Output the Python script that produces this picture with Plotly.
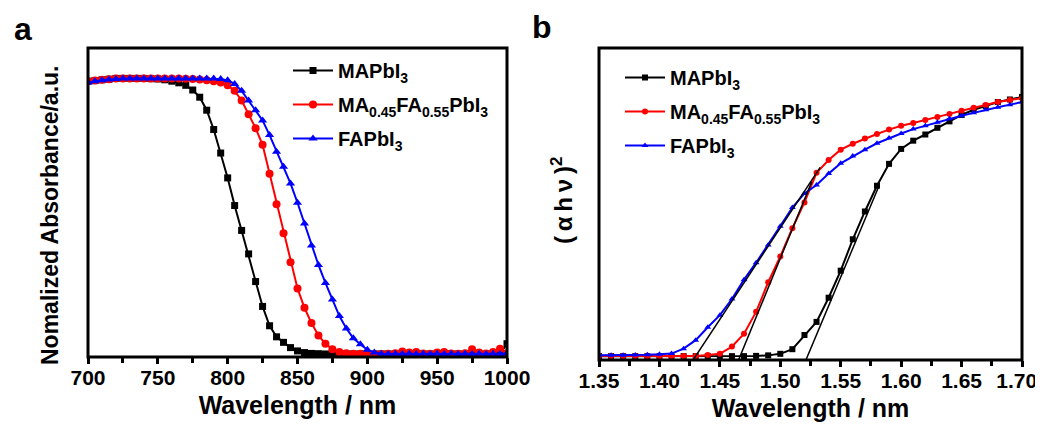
import plotly.graph_objects as go

# ── panel a: normalized absorbance vs wavelength ────────────────────────────
WAVELENGTH = list(range(700, 1001, 5))

ABS_MAPBI3 = [
    0.99, 0.992, 0.995, 0.997, 1.0, 1.0, 1.0, 1.0, 1.0, 0.999,
    0.998, 0.995, 0.99, 0.984, 0.975, 0.958, 0.932, 0.885, 0.815, 0.73,
    0.64, 0.54, 0.45, 0.365, 0.265, 0.175, 0.105, 0.065, 0.045, 0.026,
    0.014, 0.008, 0.005, 0.004, 0.003, 0.003, 0.003, 0.003, 0.003, 0.003,
    0.003, 0.003, 0.003, 0.003, 0.003, 0.003, 0.003, 0.003, 0.003, 0.003,
    0.003, 0.003, 0.003, 0.003, 0.003, 0.003, 0.003, 0.003, 0.003, 0.003,
    0.04,
]
ABS_MIXED = [
    0.99, 0.992, 0.995, 0.997, 1.0, 1.0, 1.0, 1.0, 1.0, 1.0,
    1.0, 1.0, 1.0, 1.0, 0.999, 0.998, 0.996, 0.993, 0.99, 0.985,
    0.975, 0.955, 0.92, 0.87, 0.82, 0.76, 0.655, 0.545, 0.44, 0.335,
    0.24, 0.17, 0.115, 0.07, 0.04, 0.02, 0.01, 0.006, 0.004, 0.004,
    0.003, 0.003, 0.003, 0.004, 0.006, 0.012, 0.008, 0.01, 0.005, 0.004,
    0.008, 0.01, 0.005, 0.004, 0.006, 0.02, 0.008, 0.005, 0.01, 0.022,
    0.006,
]
ABS_FAPBI3 = [
    0.985, 0.99, 0.993, 0.996, 0.998, 1.0, 1.0, 1.0, 1.0, 1.0,
    1.0, 1.0, 1.0, 1.0, 1.0, 1.0, 1.0, 1.0, 1.0, 0.998,
    0.993, 0.98, 0.955, 0.92, 0.885, 0.848, 0.795, 0.735, 0.68, 0.62,
    0.55, 0.475, 0.395, 0.325, 0.26, 0.2, 0.14, 0.095, 0.06, 0.038,
    0.018, 0.008, 0.004, 0.003, 0.004, 0.003, 0.004, 0.003, 0.004, 0.003,
    0.004, 0.003, 0.004, 0.003, 0.004, 0.003, 0.004, 0.003, 0.004, 0.003,
    0.006,
]

# ── panel b: Tauc plot ──────────────────────────────────────────────────────
ENERGY = [round(1.35 + 0.01 * i, 2) for i in range(36)]

TAUC_MAPBI3 = [
    0.003, 0.003, 0.003, 0.003, 0.003, 0.003, 0.003, 0.003, 0.003, 0.003,
    0.003, 0.003, 0.003, 0.004, 0.006, 0.012, 0.03, 0.085, 0.136, 0.23,
    0.335, 0.457, 0.565, 0.665, 0.75, 0.808, 0.84, 0.864, 0.89, 0.915,
    0.94, 0.96, 0.975, 0.99, 1.0, 1.01,
]
TAUC_MIXED = [
    0.004, 0.004, 0.004, 0.004, 0.004, 0.004, 0.004, 0.004, 0.004, 0.007,
    0.012, 0.04, 0.09, 0.175, 0.29, 0.39, 0.5, 0.6, 0.715, 0.765,
    0.805, 0.828, 0.848, 0.866, 0.883, 0.898, 0.909, 0.92, 0.932, 0.944,
    0.956, 0.968, 0.979, 0.99, 0.998, 1.005,
]
TAUC_FAPBI3 = [
    0.006, 0.006, 0.006, 0.007, 0.008, 0.01, 0.013, 0.032, 0.065, 0.115,
    0.162, 0.225, 0.3, 0.366, 0.435, 0.508, 0.58, 0.635, 0.668, 0.712,
    0.752, 0.78, 0.805, 0.83, 0.85, 0.868, 0.885, 0.898, 0.912, 0.925,
    0.937, 0.948, 0.96, 0.97, 0.98, 0.99,
]

# linear fits used to read the band gaps (end points)
FIT_MAPBI3_X = [1.5205, 1.582]
FIT_MAPBI3_Y = [-0.02, 0.668]
FIT_MIXED_X = [1.4653, 1.526]
FIT_MIXED_Y = [-0.014, 0.68]
FIT_FAPBI3_X = [1.4267, 1.533]
FIT_FAPBI3_Y = [-0.02, 0.736]

NAMES = [
    'MAPbI<sub>3</sub>',
    'MA<sub>0.45</sub>FA<sub>0.55</sub>PbI<sub>3</sub>',
    'FAPbI<sub>3</sub>',
]
COLORS = ['#000000', '#FF0000', '#0000FF']
SYMBOLS = ['square', 'circle', 'triangle-up']

FONT = 'Arial, Liberation Sans, sans-serif'

# page is shown with the default 8px body margin, so the figure is made
# smaller and every pixel position below is given in page pixels minus OFF
OFF = 8
W, H = 1043 - OFF, 430 - OFF


def px(x):
    return (x - OFF) / W


def py(y):
    return 1 - (y - OFF) / H


fig = go.Figure()

# panel a traces
for name, ys, color, sym, size in zip(NAMES, [ABS_MAPBI3, ABS_MIXED, ABS_FAPBI3],
                                      COLORS, SYMBOLS, [7, 8, 8]):
    fig.add_trace(go.Scatter(
        x=WAVELENGTH, y=ys, name=name, mode='lines+markers',
        line=dict(color=color, width=2),
        marker=dict(symbol=sym, size=size, color=color),
        xaxis='x', yaxis='y', legend='legend', legendgroup='a' + name,
    ))

# panel b traces
for name, ys, color, sym, size in zip(NAMES, [TAUC_MAPBI3, TAUC_MIXED, TAUC_FAPBI3],
                                      COLORS, SYMBOLS, [6, 6, 6]):
    fig.add_trace(go.Scatter(
        x=ENERGY, y=ys, name=name, mode='lines+markers',
        line=dict(color=color, width=2),
        marker=dict(symbol=sym, size=size, color=color),
        xaxis='x2', yaxis='y2', legend='legend2', legendgroup='b' + name,
    ))

for fx, fy in [(FIT_MAPBI3_X, FIT_MAPBI3_Y), (FIT_MIXED_X, FIT_MIXED_Y),
               (FIT_FAPBI3_X, FIT_FAPBI3_Y)]:
    fig.add_trace(go.Scatter(
        x=fx, y=fy, mode='lines', line=dict(color='#000000', width=1.5),
        showlegend=False, xaxis='x2', yaxis='y2', hoverinfo='skip',
    ))

axis_common = dict(
    showline=False, showgrid=False, zeroline=False, automargin=False,
)
xtick_font = dict(family=FONT, size=21, color='#000000', weight='bold')
xtitle_font = dict(family=FONT, size=25, color='#000000', weight='bold')
minor_ticks = dict(ticks='outside', ticklen=5, tickwidth=2.5, tickcolor='#000000')

legend_common = dict(
    bgcolor='rgba(0,0,0,0)', borderwidth=0, xanchor='left', yanchor='top',
    font=dict(family=FONT, size=20, color='#000000', weight='bold'),
    tracegroupgap=5, itemwidth=40,
)

frame = dict(color='#000000', width=3)

fig.update_layout(
    width=W, height=H,
    margin=dict(l=0, r=0, t=0, b=0, autoexpand=False),
    paper_bgcolor='white', plot_bgcolor='white',
    font=dict(family=FONT, color='#000000'),
    xaxis=dict(
        **axis_common, domain=[px(88), px(507)], range=[700, 1000],
        tickvals=[700, 750, 800, 850, 900, 950, 1000],
        ticks='outside', ticklen=6, tickwidth=2.5, tickcolor='#000000',
        minor=dict(dtick=25, **minor_ticks),
        tickfont=xtick_font, ticklabelstandoff=-4, ticklabeloverflow='allow',
        title=dict(text='Wavelength / nm', font=xtitle_font, standoff=8),
        anchor='y',
    ),
    yaxis=dict(
        **axis_common, domain=[py(357), py(48)], range=[-0.008, 1.11],
        showticklabels=False, ticks='', anchor='x',
    ),
    xaxis2=dict(
        **axis_common, domain=[px(599), px(1022)], range=[1.35, 1.70],
        tickvals=[1.35, 1.40, 1.45, 1.50, 1.55, 1.60, 1.65, 1.70],
        # last label nudged left (en space) so it stays inside the page
        ticktext=['1.35', '1.40', '1.45', '1.50', '1.55', '1.60', '1.65', '1.70\u2002'],
        ticks='outside', ticklen=6, tickwidth=2.5, tickcolor='#000000',
        minor=dict(dtick=0.025, tick0=1.35, **minor_ticks),
        tickfont=xtick_font, ticklabelstandoff=-4, ticklabeloverflow='allow',
        title=dict(text='Wavelength / nm', font=xtitle_font, standoff=8),
        anchor='y2',
    ),
    yaxis2=dict(
        **axis_common, domain=[py(360), py(48)], range=[-0.012, 1.2],
        showticklabels=False, ticks='', anchor='x2',
    ),
    legend=dict(**legend_common, x=px(288), y=py(51)),
    legend2=dict(**legend_common, x=px(620), y=py(58)),
    shapes=[
        dict(type='rect', xref='x domain', yref='y domain', x0=0, x1=1, y0=0, y1=1,
             line=frame, layer='above'),
        dict(type='rect', xref='x2 domain', yref='y2 domain', x0=0, x1=1, y0=0, y1=1,
             line=frame, layer='above'),
    ],
    annotations=[
        dict(text='a', x=px(12), y=py(29), xref='paper', yref='paper',
             xanchor='left', yanchor='middle', showarrow=False,
             font=dict(family=FONT, size=32, color='#000000', weight='bold')),
        dict(text='b', x=px(530), y=py(27), xref='paper', yref='paper',
             xanchor='left', yanchor='middle', showarrow=False,
             font=dict(family=FONT, size=32, color='#000000', weight='bold')),
        # y axis titles
        dict(text='Nomalized Absorbance/a.u.', x=px(50), y=py(215),
             xref='paper', yref='paper', xanchor='center', yanchor='middle',
             textangle=-90, showarrow=False,
             font=dict(family=FONT, size=23, color='#000000', weight='bold')),
        dict(text='(\u2009α\u2009h\u2009ν\u2009)<sup>2</sup>', x=px(562), y=py(201),
             xref='paper', yref='paper', xanchor='center', yanchor='middle',
             textangle=-90, showarrow=False,
             font=dict(family=FONT, size=24, color='#000000', weight='bold')),
    ],
)

fig.write_html('out.html')
